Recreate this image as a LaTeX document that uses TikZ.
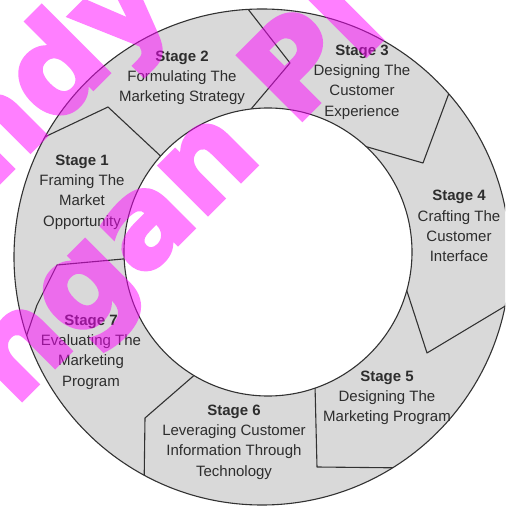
\documentclass[tikz,border=0pt]{standalone}
\usepackage{fontspec}
\setmainfont{Liberation Sans}
\newfontfamily\wmfont[FakeBold=3]{DejaVu Sans Bold}
\usepackage{xcolor}
\definecolor{ringgray}{RGB}{217,217,217}
\definecolor{edgegray}{RGB}{50,50,50}
\definecolor{textgray}{RGB}{45,45,45}
\definecolor{wmpink}{RGB}{255,0,255}
\tikzset{
	border/.style={draw=edgegray, line width=1.1pt, line join=round},
	stagetext/.style={align=center, text=textgray, inner sep=0pt,
		font=\fontsize{15}{20.3}\selectfont},
	wmark/.style={text=wmpink, rotate=45, inner sep=0pt,
		font=\wmfont\fontsize{125}{125}\selectfont},
}

\begin{document}
\begin{tikzpicture}[x=1pt, y=1pt]
	\useasboundingbox (-262,-253) rectangle (243,257);
	\clip (-262,-253) rectangle (243,257);
	\fill[white] (-262,-253) rectangle (243,257);
	% ring with the seven stage borders
	\begin{scope}
	\clip (0,0) circle[radius=248];
	\fill[ringgray] (0,0) circle[radius=248];
	\draw[border] (-228,115) -- (-154,150) -- (-95,95);
	\draw[border] (-18,253) -- (28,194) -- (-16,142);
	\draw[border] (190,172) -- (161,94) -- (95,113);
	\draw[border] (142,-25) -- (165,-96) -- (250,-45);
	\draw[border] (53,-128) -- (55,-210) -- (150,-211);
	\draw[border] (-64,-115) -- (-117,-161) -- (-118,-235);
	\draw[border] (-128,-1) -- (-205,-8) -- (-225,-48) -- (-241,-95);
	\end{scope}
	\fill[white] (6,5) circle[radius=144];
	\draw[border] (0,0) circle[radius=248];
	\draw[border] (6,5) circle[radius=144];
	% stage labels
	\node[stagetext] (s1) at (-180,65) {\textbf{Stage 1}\\Framing The\\Market\\Opportunity};
	\node[stagetext] (s2) at (-80,179) {\textbf{Stage 2}\\Formulating The\\Marketing Strategy};
	\node[stagetext] (s3) at (100,175) {\textbf{Stage 3}\\Designing The\\Customer\\Experience};
	\node[stagetext] (s4) at (197,31) {\textbf{Stage 4}\\Crafting The\\Customer\\Interface};
	\node[stagetext] (s5) at (125,-141) {\textbf{Stage 5}\\Designing The\\Marketing Program};
	\node[stagetext] (s6) at (-28,-185) {\textbf{Stage 6}\\Leveraging Customer\\Information Through\\Technology};
	\node[stagetext] (s7) at (-171,-95) {\textbf{Stage 7}\\Evaluating The\\Marketing\\Program};
	% watermark
	\begin{scope}[transparency group, opacity=0.5]
	\node[wmark] (wm1) at (-204,181) {ndy};
	\node[wmark] (wm2) at (-84,61) {ngan Pl};
	\end{scope}
\end{tikzpicture}
\end{document}
